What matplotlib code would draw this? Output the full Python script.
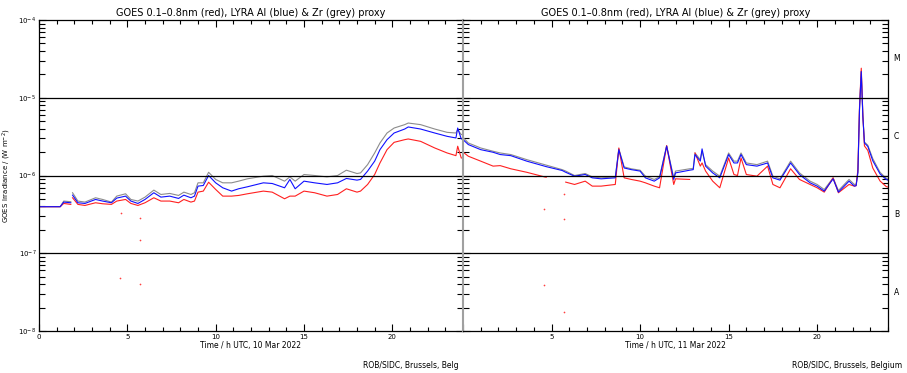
import numpy as np
import matplotlib
matplotlib.use('Agg')
import matplotlib.pyplot as plt
from matplotlib.ticker import MultipleLocator, LogLocator, NullFormatter
import matplotlib.transforms as mtransforms

nan = np.nan

# ---- data (hours UTC, W m^-2) ----
title = 'GOES 0.1\u20130.8nm (red), LYRA Al (blue) & Zr (grey) proxy'
day_labels = ['Time / h UTC, 10 Mar 2022', 'Time / h UTC, 11 Mar 2022']
class_labels = ['M', 'C', 'B', 'A']
class_levels = [10**-4.5, 10**-5.5, 10**-6.5, 10**-7.5]

d1_t = [0.0, 0.5, 1.2, 1.4, 1.8, 1.85, 1.9, 2.2, 2.6, 3.2,
        3.6, 4.1, 4.4, 4.9, 5.2, 5.6, 6.0, 6.5, 6.9, 7.4,
        7.9, 8.2, 8.6, 8.8, 9.0, 9.3, 9.6, 10.0, 10.4, 10.9,
        11.3, 11.8, 12.7, 13.2, 13.9, 14.2, 14.5, 15.0, 15.6, 16.3,
        16.9, 17.4, 18.0, 18.2, 18.6, 19.0, 19.3, 19.7, 20.1, 20.7,
        20.9, 21.6, 22.4, 23.1, 23.6, 23.7, 23.9, 24.0]
d1_grey = [3.97e-7, 3.97e-7, 3.97e-7, 4.69e-7, 4.6e-7, nan, 6.0e-7, 4.69e-7, 4.55e-7, 5.17e-7,
           4.92e-7, 4.55e-7, 5.43e-7, 5.82e-7, 4.92e-7, 4.69e-7, 5.27e-7, 6.49e-7, 5.70e-7, 5.88e-7,
           5.54e-7, 6.11e-7, 5.70e-7, 6.0e-7, 8.05e-7, 8.05e-7, 1.10e-6, 8.9e-7, 8.05e-7, 8.05e-7,
           8.46e-7, 9.07e-7, 9.8e-7, 1.0e-6, 8.46e-7, 9.6e-7, 8.46e-7, 1.03e-6, 1.0e-6, 9.6e-7,
           1.0e-6, 1.17e-6, 1.06e-6, 1.08e-6, 1.38e-6, 1.95e-6, 2.62e-6, 3.52e-6, 4.08e-6, 4.51e-6,
           4.73e-6, 4.51e-6, 3.96e-6, 3.59e-6, 3.52e-6, 3.9e-6, 3.36e-6, 3.36e-6]
d1_blue = [3.97e-7, 3.97e-7, 3.97e-7, 4.55e-7, 4.46e-7, nan, 5.59e-7, 4.46e-7, 4.37e-7, 4.92e-7,
           4.69e-7, 4.46e-7, 5.12e-7, 5.43e-7, 4.69e-7, 4.37e-7, 4.92e-7, 6.0e-7, 5.27e-7, 5.43e-7,
           5.07e-7, 5.59e-7, 5.17e-7, 5.43e-7, 7.3e-7, 7.44e-7, 1.0e-6, 8.05e-7, 6.95e-7, 6.30e-7,
           6.75e-7, 7.16e-7, 8.05e-7, 7.89e-7, 6.95e-7, 8.9e-7, 6.75e-7, 8.46e-7, 8.05e-7, 7.67e-7,
           8.05e-7, 9.16e-7, 8.72e-7, 8.9e-7, 1.14e-6, 1.53e-6, 2.15e-6, 2.89e-6, 3.52e-6, 3.96e-6,
           4.21e-6, 3.96e-6, 3.52e-6, 3.19e-6, 3.04e-6, 4.08e-6, 2.95e-6, 2.95e-6]
d1_red = [3.97e-7, 3.97e-7, 3.97e-7, 4.37e-7, 4.25e-7, nan, 5.17e-7, 4.25e-7, 4.12e-7, 4.46e-7,
          4.33e-7, 4.25e-7, 4.69e-7, 4.92e-7, 4.37e-7, 4.12e-7, 4.46e-7, 5.17e-7, 4.69e-7, 4.69e-7,
          4.46e-7, 4.92e-7, 4.55e-7, 4.69e-7, 6.11e-7, 6.30e-7, 8.2e-7, 6.62e-7, 5.43e-7, 5.43e-7,
          5.54e-7, 5.82e-7, 6.30e-7, 6.11e-7, 5.02e-7, 5.43e-7, 5.43e-7, 6.30e-7, 6.0e-7, 5.43e-7,
          5.70e-7, 6.75e-7, 6.11e-7, 6.30e-7, 7.67e-7, 1.03e-6, 1.45e-6, 2.15e-6, 2.67e-6, 2.89e-6,
          2.95e-6, 2.75e-6, 2.26e-6, 1.95e-6, 1.80e-6, 2.38e-6, 1.68e-6, 1.68e-6]

d2_t = [0.0, 0.3, 1.0, 1.7, 2.1, 2.7, 3.6, 4.6, 4.7, 5.6,
        5.8, 6.3, 6.9, 7.3, 7.8, 8.6, 8.8, 9.1, 9.5, 10.0,
        10.3, 10.8, 11.1, 11.5, 11.9, 12.0, 12.8, 13.0, 13.1, 13.4,
        13.5, 13.7, 14.1, 14.5, 15.0, 15.3, 15.5, 15.7, 16.0, 16.6,
        17.2, 17.5, 17.9, 18.5, 19.0, 19.6, 20.0, 20.4, 20.9, 21.2,
        21.8, 22.1, 22.2, 22.3, 22.39, 22.49, 22.58, 22.67, 22.86, 23.14,
        23.55, 23.9, 24.0]
d2_grey = [3.1e-6, 2.62e-6, 2.26e-6, 2.05e-6, 1.95e-6, 1.86e-6, 1.60e-6, 1.38e-6, 1.36e-6, 1.19e-6,
           1.14e-6, 1.0e-6, 1.06e-6, 9.6e-7, 9.33e-7, 9.6e-7, 2.20e-6, 1.29e-6, 1.22e-6, 1.17e-6,
           9.8e-7, 8.9e-7, 9.6e-7, 2.42e-6, 9.33e-7, 1.14e-6, 1.22e-6, 1.23e-6, 1.95e-6, 1.60e-6,
           2.05e-6, 1.38e-6, 1.14e-6, 9.8e-7, 1.95e-6, 1.53e-6, 1.53e-6, 1.95e-6, 1.45e-6, 1.38e-6,
           1.53e-6, 9.8e-7, 9.06e-7, 1.53e-6, 1.08e-6, 8.46e-7, 7.67e-7, 6.6e-7, 9.33e-7, 6.4e-7,
           8.9e-7, 7.67e-7, 7.7e-7, 1.1e-6, 7.0e-6, 2.2e-5, 5.8e-6, 2.7e-6, 2.45e-6, 1.65e-6,
           1.1e-6, 9.2e-7, 9.0e-7]
d2_blue = [2.9e-6, 2.50e-6, 2.15e-6, 1.99e-6, 1.86e-6, 1.80e-6, 1.53e-6, 1.32e-6, 1.30e-6, 1.16e-6,
           1.10e-6, 9.8e-7, 1.03e-6, 9.33e-7, 9.06e-7, 9.33e-7, 2.15e-6, 1.25e-6, 1.19e-6, 1.14e-6,
           9.33e-7, 8.46e-7, 9.33e-7, 2.38e-6, 8.9e-7, 1.08e-6, 1.17e-6, 1.19e-6, 1.86e-6, 1.53e-6,
           2.20e-6, 1.32e-6, 1.08e-6, 9.33e-7, 1.86e-6, 1.45e-6, 1.45e-6, 1.86e-6, 1.38e-6, 1.32e-6,
           1.45e-6, 9.33e-7, 8.72e-7, 1.45e-6, 1.03e-6, 8.05e-7, 7.30e-7, 6.30e-7, 9.06e-7, 6.11e-7,
           8.46e-7, 7.30e-7, 7.4e-7, 1.09e-6, 7.0e-6, 2.17e-5, 5.75e-6, 2.62e-6, 2.37e-6, 1.55e-6,
           1.05e-6, 8.9e-7, 8.7e-7]
d2_red = [2.0e-6, 1.77e-6, 1.53e-6, 1.32e-6, 1.34e-6, 1.22e-6, 1.10e-6, 9.6e-7, 9.5e-7, nan,
          8.22e-7, 7.67e-7, 8.46e-7, 7.30e-7, 7.30e-7, 7.67e-7, 2.26e-6, 9.33e-7, 8.9e-7, 8.46e-7,
          8.05e-7, 7.30e-7, 6.95e-7, 2.42e-6, 7.67e-7, 9.06e-7, 8.9e-7, nan, 1.95e-6, 1.32e-6,
          1.45e-6, 1.14e-6, 8.46e-7, 6.95e-7, 1.68e-6, 1.03e-6, 1.0e-6, 1.68e-6, 1.03e-6, 9.8e-7,
          1.32e-6, 7.67e-7, 6.95e-7, 1.22e-6, 8.9e-7, 7.67e-7, 6.95e-7, 6.11e-7, 9.33e-7, 6.0e-7,
          7.67e-7, 7.30e-7, 7.4e-7, 1.2e-6, 7.5e-6, 2.40e-5, 6.0e-6, 2.4e-6, 2.1e-6, 1.25e-6,
          8.5e-7, 7.2e-7, 7.1e-7]

# stray GOES points
d1_odd_t = [4.64, 5.71, 5.71, 4.6, 5.71]
d1_odd_v = [3.29e-7, 2.87e-7, 1.46e-7, 4.74e-8, 3.97e-8]
d2_odd_t = [4.6, 4.6, 5.7, 5.7, 5.7]
d2_odd_v = [3.74e-7, 3.89e-8, 5.82e-7, 2.79e-7, 1.77e-8]

####################################

W, H = 907, 373
fig = plt.figure(figsize=(W / 100, H / 100), dpi=100)
ax1 = fig.add_axes([39 / W, 42 / H, 424 / W, 311 / H])
ax2 = fig.add_axes([463 / W, 42 / H, 425 / W, 311 / H])

days = [(ax1, d1_t, d1_grey, d1_blue, d1_red, d1_odd_t, d1_odd_v),
        (ax2, d2_t, d2_grey, d2_blue, d2_red, d2_odd_t, d2_odd_v)]

for i, (ax, t, g, b, r, ot, ov) in enumerate(days):
    ax.plot(t, g, color='#8c8c8c', lw=0.8)
    ax.plot(t, r, color='#ff2020', lw=0.8)
    ax.plot(t, b, color='#1010ff', lw=0.8)
    ax.scatter(ot, ov, s=1.5, color='#ff4040', lw=0)
    for lev in [1e-5, 1e-6, 1e-7]:
        ax.axhline(lev, color='k', lw=0.9)
    ax.set_yscale('log')
    ax.set_ylim(1e-8, 1e-4)
    ax.set_xlim(0, 24)
    ax.xaxis.set_major_locator(MultipleLocator(5))
    ax.xaxis.set_minor_locator(MultipleLocator(1))
    ax.yaxis.set_major_locator(LogLocator(base=10, numticks=10))
    ax.yaxis.set_minor_locator(LogLocator(base=10, subs=np.arange(2, 10), numticks=20))
    ax.yaxis.set_minor_formatter(NullFormatter())
    ax.tick_params(which='both', direction='in', top=True, right=True,
                   labelsize=5, colors='k', pad=2)
    ax.tick_params(which='major', length=5, width=0.8)
    ax.tick_params(which='minor', length=3, width=0.8)
    ax.tick_params(axis='y', which='minor', length=4)
    ax.set_title(title, fontsize=7, pad=3)
    ax.set_xlabel(day_labels[i], fontsize=5.5, labelpad=1)
    for sp in ax.spines.values():
        sp.set_linewidth(0.9)

ax1.spines['right'].set_color('#a0a0a0')
ax2.spines['left'].set_color('#a0a0a0')
ax2.spines['left'].set_linewidth(1.5)
ax2.tick_params(axis='y', labelleft=False)
ax2.set_xticks([0, 5, 10, 15, 20])
ax2.set_xticklabels(['', '5', '10', '15', '20'])
ax1.set_ylabel('GOES Irradiance / (W m$^{-2}$)', fontsize=5, labelpad=4)

trans = mtransforms.blended_transform_factory(ax2.transAxes, ax2.transData)
for lab, lev in zip(class_labels, class_levels):
    ax2.text(1.02, lev, lab, transform=trans, fontsize=5.5, va='center', ha='center')

fig.text(363 / W, 1 - 365 / H, 'ROB/SIDC, Brussels, Belg', fontsize=5.5, ha='left', va='center')
fig.text(902 / W, 1 - 365 / H, 'ROB/SIDC, Brussels, Belgium', fontsize=5.5, ha='right', va='center')

fig.savefig('out.png', dpi=100)
